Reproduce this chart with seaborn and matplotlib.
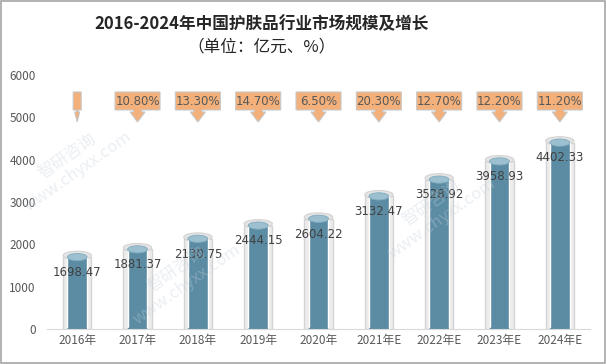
import pandas as pd
import seaborn as sns
import matplotlib.pyplot as plt
import matplotlib.transforms as mtransforms
from matplotlib.patches import Ellipse, Polygon, Rectangle

# 数据
years = ["2016年", "2017年", "2018年", "2019年", "2020年",
         "2021年E", "2022年E", "2023年E", "2024年E"]
market_size = [1698.47, 1881.37, 2130.75, 2444.15, 2604.22,
               3132.47, 3528.92, 3958.93, 4402.33]
growth = [None, "10.80%", "13.30%", "14.70%", "6.50%",
          "20.30%", "12.70%", "12.20%", "11.20%"]

df = pd.DataFrame({"year": years, "size": market_size})

sns.set_style("white")
plt.rcParams['font.family'] = ['Noto Sans CJK SC', 'DejaVu Sans']

fig = plt.figure(figsize=(6.06, 3.64), dpi=100)
ax = fig.add_axes([0.0776, 0.096, 0.896, 0.698])

# 玻璃外管 + 内部柱子
sns.barplot(data=df, x="year", y="size", color="#ececec", width=0.47,
            edgecolor="#d4d4d4", linewidth=1, saturation=1, ax=ax, zorder=1)
sns.barplot(data=df, x="year", y="size", color="#5b8ca3", width=0.33,
            saturation=1, ax=ax, zorder=2)

for i, v in enumerate(market_size):
    # 圆柱顶部和底部椭圆
    ax.add_patch(Ellipse((i, v + 40), 0.47, 200, facecolor="#e4e4e4",
                         edgecolor="#d4d4d4", lw=0.8, zorder=1.5))
    ax.add_patch(Ellipse((i, v), 0.33, 170, facecolor="#9cc0d0",
                         edgecolor="#7faabd", lw=0.6, zorder=3))
    ax.add_patch(Ellipse((i, 0), 0.33, 140, facecolor="#5b8ca3",
                         edgecolor="none", zorder=2))
    ax.annotate(f"{v:.2f}", (i, v), xytext=(0, -11), textcoords="offset points",
                ha="center", va="center", fontsize=8.5, color="#404040", zorder=5,
                family=['DejaVu Sans'])

# 增长率标注框 (形状单位: 英寸, 锚点为箭头尖)
for i, g in enumerate(growth):
    tr = fig.dpi_scale_trans + mtransforms.ScaledTranslation(i, 4890, ax.transData)
    if g is None:
        bw, hw, sw = 0.04, 0.025, 0.008
    else:
        bw, hw, sw = 0.225, 0.075, 0.04
    shape = [(-bw, 0.12), (-bw, 0.30), (bw, 0.30), (bw, 0.12),
             (sw, 0.12), (sw, 0.10), (hw, 0.10), (0, 0.0),
             (-hw, 0.10), (-sw, 0.10), (-sw, 0.12)]
    ax.add_patch(Polygon(shape, closed=True, transform=tr, facecolor="#f3b07a",
                         edgecolor="#c8c8c8", lw=0.8, zorder=4, clip_on=False))
    if g is not None:
        ax.annotate(g, (i, 4890), xytext=(0, 15), textcoords="offset points",
                    ha="center", va="center", fontsize=8.5, color="#595959",
                    zorder=5, family=['DejaVu Sans'])

# 坐标轴
ax.set_ylim(0, 6000)
ax.set_xlim(-0.5, 8.5)
ax.set_yticks(range(0, 6001, 1000))
ax.set_xlabel("")
ax.set_ylabel("")
ax.tick_params(axis="both", length=0, labelsize=8.5, labelcolor="#595959")
ax.tick_params(axis="y", pad=8)
sns.despine(ax=ax, left=True)
ax.spines["bottom"].set_color("#d9d9d9")

# 标题
fig.text(0.432, 0.934, "2016-2024年中国护肤品行业市场规模及增长", ha="center",
         va="center", fontsize=12, fontweight="bold", color="#262626")
fig.text(0.432, 0.871, "（单位：亿元、%）", ha="center", va="center",
         fontsize=12, color="#262626")

# 水印
for x, y in [(0.3, 0.24), (0.72, 0.42), (0.12, 0.55)]:
    fig.text(x, y, "智研咨询\nwww.chyxx.com", rotation=35, ha="center", va="center",
             fontsize=12, color="#c5d0dc", alpha=0.35, linespacing=1.1)

# 外框
fig.patches.append(Rectangle((0.001, 0.002), 0.997, 0.995, transform=fig.transFigure,
                             fill=False, edgecolor="#a6a6a6", lw=1.2))

plt.savefig("out.png", dpi=100)
plt.show()
